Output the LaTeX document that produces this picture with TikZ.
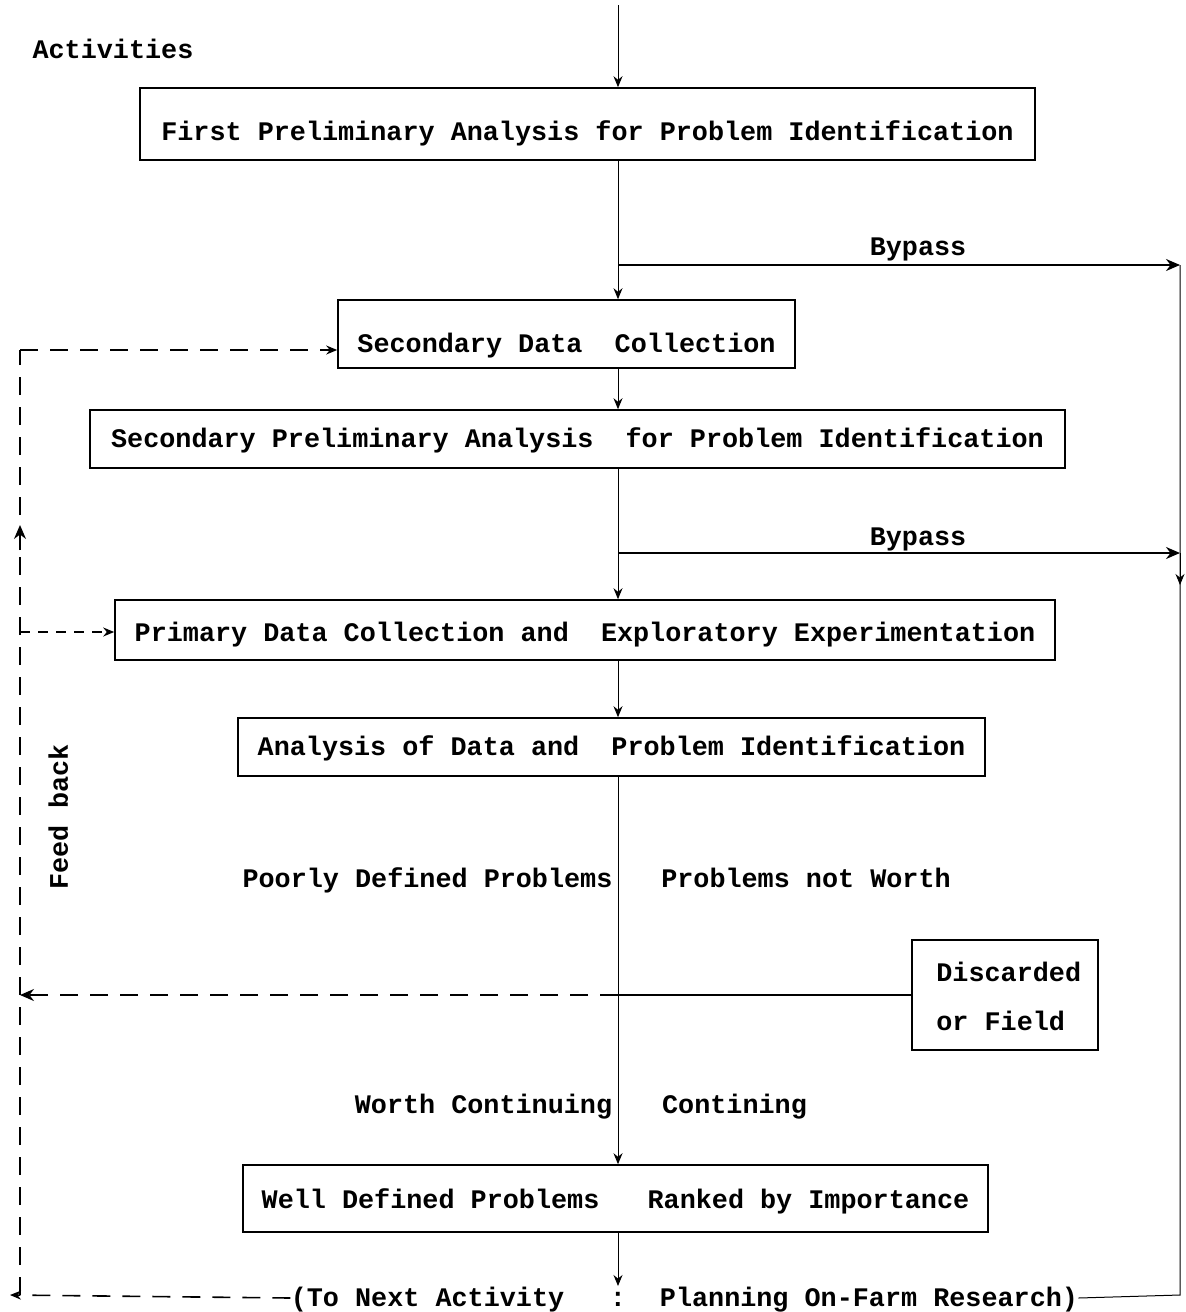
\documentclass[tikz,border=0pt]{standalone}
\usepackage{fontspec}
\setmonofont{Liberation Mono}
\usetikzlibrary{arrows.meta}
\begin{document}
\begin{tikzpicture}[x=0.5pt,y=-0.5pt,
  font=\fontsize{13.4}{16}\selectfont\ttfamily\bfseries,
  >={Stealth[length=5.5pt,width=4.5pt]},
  big/.style={-{Stealth[length=7pt,width=6pt]}},
  every node/.style={text height=9pt,text depth=1pt,inner sep=0pt},
  boxed/.style={draw,line width=0.8pt},
  cline/.style={line width=0.5pt},
  bypass/.style={line width=0.9pt},
  fb/.style={line width=0.8pt,dash pattern=on 9pt off 6pt},
  fbs/.style={line width=0.8pt,dash pattern=on 5pt off 4pt}]
\useasboundingbox (0,0) rectangle (1185,1312);

% boxes
\node[boxed,minimum width=447.5pt,minimum height=36pt] (b1) at (587.5,124)
  {\raisebox{-4pt}[\height][\depth]{First Preliminary Analysis for Problem Identification}};
\node[boxed,minimum width=228.5pt,minimum height=34pt] (b2) at (566.5,334)
  {\raisebox{-5pt}[\height][\depth]{Secondary Data~ Collection}};
\node[boxed,minimum width=487.5pt,minimum height=29pt] (b3) at (577.5,439)
  {Secondary Preliminary Analysis~ for Problem Identification};
\node[boxed,minimum width=470pt,minimum height=30pt] (b4) at (585,630)
  {\raisebox{-1.5pt}[\height][\depth]{Primary Data Collection and~ Exploratory Experimentation}};
\node[boxed,minimum width=373.5pt,minimum height=29pt] (b5) at (611.5,747)
  {Analysis of Data and~ Problem Identification};
\node[boxed,minimum width=372.5pt,minimum height=33.5pt] (b6) at (615.5,1198.5)
  {\raisebox{-1pt}[\height][\depth]{Well Defined Problems~~ Ranked by Importance}};
\node[boxed,minimum width=93pt,minimum height=55pt] (disc) at (1005,995) {};
\node[anchor=west] (d1) at (936,973) {Discarded};
\node[anchor=west] (d2) at (936,1022) {or Field};

% free texts
\node (act) at (113,50) {Activities};
\node (bp1) at (918,247) {Bypass};
\node (bp2) at (918,537) {Bypass};
\node (pdp) at (427.5,879) {Poorly Defined Problems};
\node (pnw) at (806,879) {Problems not Worth};
\node (wc) at (483.5,1105) {Worth Continuing};
\node (cont) at (734.5,1105) {Contining};
\node (tn) at (427.5,1298) {(To Next Activity};
\node (colon) at (618,1298) {:};
\node (pl) at (869,1298) {Planning On-Farm Research)};
\node[rotate=90] (fbk) at (60,817) {Feed back};

% coordinates
\coordinate (c0) at (618,5);
\coordinate (br1) at (618,265);
\coordinate (br2) at (618,553);
\coordinate (r1) at (1180,265);
\coordinate (r2) at (1180,553);
\coordinate (rb) at (1180,1295);
\coordinate (lt) at (20,350);
\coordinate (l4) at (20,632);
\coordinate (lb) at (20,1295);
\coordinate (lbb) at (10,1295);
\coordinate (lfd) at (20,995);
\coordinate (cd) at (618,995);
\coordinate (cend) at (618,1286);
\coordinate (lupa) at (20,550);
\coordinate (lup) at (20,525);
\coordinate (rdn) at (1180,585);

% main flow
\draw[cline,->] (c0) -- (c0 |- b1.north);
\draw[cline] (c0 |- b1.south) -- (br1);
\draw[cline,->] (br1) -- (c0 |- b2.north);
\draw[bypass,big] (br1) -- (r1);
\draw[cline,->] (c0 |- b2.south) -- (c0 |- b3.north);
\draw[cline] (c0 |- b3.south) -- (br2);
\draw[cline,->] (br2) -- (c0 |- b4.north);
\draw[bypass,big] (br2) -- (r2);
\draw[cline,->] (c0 |- b4.south) -- (c0 |- b5.north);
\draw[cline,->] (c0 |- b5.south) -- (c0 |- b6.north);
\draw[cline,->] (c0 |- b6.south) -- (cend);

% right bypass line
\draw[cline] (r1) -- (rb) -- (pl.east);
\draw[cline,->] (r2) -- (rdn);

% discarded / feedback
\draw[line width=0.8pt] (disc.west) -- (cd);
\draw[fb,big] (cd) -- (lfd);
\draw[fb] (lb) -- (lt);
\draw[fb,->] (lt) -- (lt -| b2.west);
\draw[fbs,->] (l4) -- (l4 -| b4.west);
\draw[line width=0.9pt,big] (lupa) -- (lup);
\draw[fb,->] (tn.west) -- (lbb);
\end{tikzpicture}
\end{document}
